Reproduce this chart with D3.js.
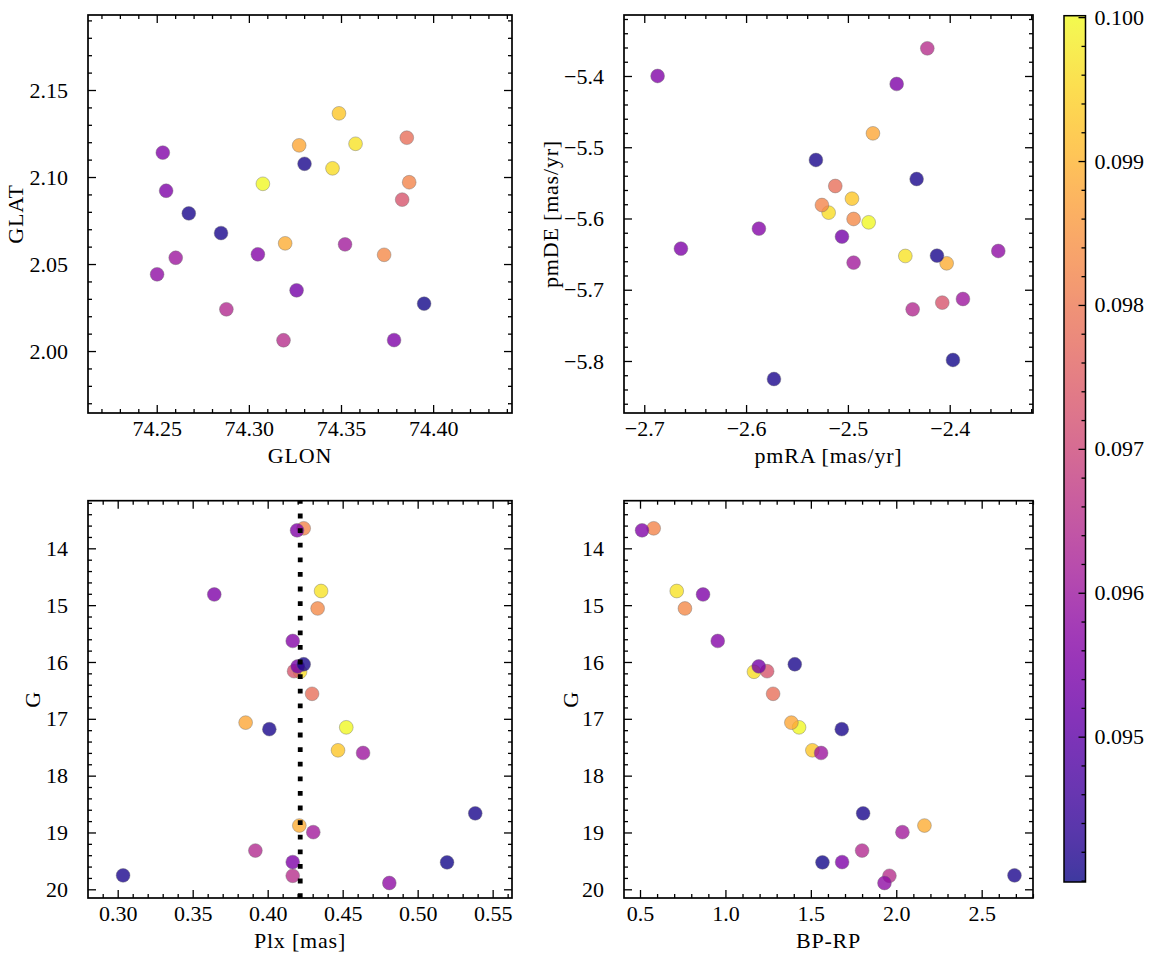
<!DOCTYPE html>
<html>
<head>
<meta charset="utf-8">
<script src="https://cdn.jsdelivr.net/npm/d3@7"></script>
<style>
  html, body { margin: 0; padding: 0; background: #fff; }
  svg { display: block; }
</style>
</head>
<body>
<svg id="chart" width="1155" height="965"></svg>
<script>
// ---------------- data (one entry per star) ----------------
const glon = [74.2533, 74.3870, 74.2551, 74.3579, 74.3734, 74.3049, 74.3302, 74.3259, 74.3832, 74.3454,
              74.3857, 74.3273, 74.2674, 74.3076, 74.3489, 74.2603, 74.2849, 74.3197, 74.3522, 74.2878,
              74.3788, 74.3951, 74.3188, 74.3420, 74.2502];
const glat = [2.1140, 2.0970, 2.0921, 2.1191, 2.0553, 2.0556, 2.1076, 2.0349, 2.0870, 2.1050,
              2.1226, 2.1182, 2.0791, 2.0961, 2.1366, 2.0536, 2.0678, 2.0619, 2.0613, 2.0240,
              2.0063, 2.0272, 2.0062, 2.2050, 2.0441];
const pmra = [-2.6869, -2.5255, -2.6640, -2.4436, -2.4944, -2.5874, -2.5314, -2.5058, -2.4073, -2.5189,
              -2.5124, -2.4754, -2.4325, -2.4796, -2.4960, -2.3870, -2.4125, -2.4030, -2.4944, -2.4364,
              -2.4521, -2.3968, -2.4220, -2.5726, -2.3523];
const pmde = [-5.4000, -5.5811, -5.6423, -5.6526, -5.6007, -5.6143, -5.5179, -5.6255, -5.7181, -5.5918,
              -5.5544, -5.4805, -5.5446, -5.6054, -5.5722, -5.7130, -5.6522, -5.6629, -5.6620, -5.7275,
              -5.4112, -5.7986, -5.3612, -5.8253, -5.6456];
const plx  = [0.4196, 0.4240, 0.3644, 0.4356, 0.4333, 0.4167, 0.4240, 0.4200, 0.4176, 0.4216,
              0.4296, 0.3853, 0.4011, 0.4524, 0.4469, 0.4636, 0.5384, 0.4211, 0.4304, 0.3918,
              0.4167, 0.5196, 0.4167, 0.3036, 0.4811];
const gmag = [13.683, 13.648, 14.812, 14.751, 15.058, 15.630, 16.040, 16.078, 16.162, 16.172,
              16.560, 17.067, 17.182, 17.150, 17.554, 17.601, 18.663, 18.878, 18.994, 19.318,
              19.521, 19.526, 19.762, 19.755, 19.889];
const bprp = [0.512, 0.580, 0.869, 0.715, 0.763, 0.955, 1.406, 1.195, 1.244, 1.167,
              1.279, 1.386, 1.681, 1.431, 1.509, 1.560, 1.806, 2.165, 2.036, 1.800,
              1.683, 1.568, 1.960, 2.692, 1.931];
const cval = [0.09555, 0.09820, 0.09550, 0.09970, 0.09830, 0.09560, 0.09410, 0.09535, 0.09730, 0.09960,
              0.09780, 0.09880, 0.09410, 0.09998, 0.09930, 0.09600, 0.09410, 0.09890, 0.09610, 0.09640,
              0.09550, 0.09405, 0.09650, 0.09412, 0.09580];
const plxRef = 0.4217;
const cRange = [0.09399, 0.10001];

// tick values and labels
const p1XTicks = [74.25, 74.30, 74.35, 74.40];
const p1YTicks = [2.00, 2.05, 2.10, 2.15];
const p2XTicks = [-2.7, -2.6, -2.5, -2.4];
const p2YTicks = [-5.8, -5.7, -5.6, -5.5, -5.4];
const p3XTicks = [0.30, 0.35, 0.40, 0.45, 0.50, 0.55];
const gTicks   = [14, 15, 16, 17, 18, 19, 20];
const p4XTicks = [0.5, 1.0, 1.5, 2.0, 2.5];
const cTicks   = [0.095, 0.096, 0.097, 0.098, 0.099, 0.100];
const axisTitles = ["GLON", "GLAT", "pmRA [mas/yr]", "pmDE [mas/yr]", "Plx [mas]", "G", "BP-RP", "G"];

// ---------------- drawing ----------------
const FONT = "Liberation Serif";
const svg = d3.select("#chart").style("font-family", FONT);
const FS = 22;
const ALPHA = 0.8;
const color = d3.scaleSequential(d3.interpolatePlasma).domain(cRange);
const minus = s => s.replace("-", "\u2212");
const order = d3.range(cval.length).sort((a, b) => cval[b] - cval[a]);

function minorTicks(dom, step) {
  const lo = Math.min(dom[0], dom[1]), hi = Math.max(dom[0], dom[1]);
  const out = [];
  for (let v = Math.ceil(lo / step - 1e-9) * step; v <= hi + 1e-12; v += step) out.push(+v.toFixed(6));
  return out;
}
const fontify = sel => sel.style("font-family", FONT).style("font-size", FS + "px").attr("fill", "#000");
const titleFont = sel => fontify(sel).style("letter-spacing", "0.8px");

function panel(o) {
  const g = svg.append("g");
  const x = d3.scaleLinear().domain(o.xdom).range([o.left, o.right]);
  const y = d3.scaleLinear().domain(o.ydom).range([o.bottom, o.top]);
  const clipId = "clip" + o.id;
  svg.append("clipPath").attr("id", clipId).append("rect")
    .attr("x", o.left).attr("y", o.top).attr("width", o.right - o.left).attr("height", o.bottom - o.top);

  // points
  g.append("g").attr("clip-path", `url(#${clipId})`)
    .selectAll("circle").data(order).join("circle")
    .attr("cx", i => x(o.xs[i])).attr("cy", i => y(o.ys[i])).attr("r", 6.9)
    .attr("fill", i => color(cval[i])).attr("fill-opacity", ALPHA)
    .attr("stroke", "#6e6e6e").attr("stroke-opacity", 0.7).attr("stroke-width", 0.6);

  if (o.vline !== undefined) {
    g.append("line").attr("x1", x(o.vline)).attr("x2", x(o.vline))
      .attr("y1", o.bottom).attr("y2", o.top)
      .attr("stroke", "#000").attr("stroke-width", 4.8).attr("stroke-dasharray", "4.8 9.8");
  }

  const tw = 1.3, maj = 8, mnr = 4;
  const style = sel => { sel.select(".domain").remove(); sel.selectAll("line").attr("stroke-width", tw); };
  const bottomAx = (vals, size, fmt) => d3.axisBottom(x).tickValues(vals).tickSize(-size).tickPadding(7).tickFormat(fmt || "");
  const topAx = (vals, size) => d3.axisTop(x).tickValues(vals).tickSize(-size).tickFormat("");
  const leftAx = (vals, size, fmt) => d3.axisLeft(y).tickValues(vals).tickSize(-size).tickPadding(20).tickFormat(fmt || "");
  const rightAx = (vals, size) => d3.axisRight(y).tickValues(vals).tickSize(-size).tickFormat("");

  const xm = minorTicks(o.xdom, o.xminor).filter(v => !o.xticks.some(t => Math.abs(t - v) < 1e-6));
  const ym = minorTicks(o.ydom, o.yminor).filter(v => !o.yticks.some(t => Math.abs(t - v) < 1e-6));

  g.append("g").attr("transform", `translate(0,${o.bottom})`).call(bottomAx(xm, mnr)).call(style);
  g.append("g").attr("transform", `translate(0,${o.top})`).call(topAx(xm, mnr)).call(style);
  g.append("g").attr("transform", `translate(${o.left},0)`).call(leftAx(ym, mnr)).call(style);
  g.append("g").attr("transform", `translate(${o.right},0)`).call(rightAx(ym, mnr)).call(style);

  const bx = g.append("g").attr("transform", `translate(0,${o.bottom})`).call(bottomAx(o.xticks, maj, o.xfmt)).call(style);
  g.append("g").attr("transform", `translate(0,${o.top})`).call(topAx(o.xticks, maj)).call(style);
  const ly = g.append("g").attr("transform", `translate(${o.left},0)`).call(leftAx(o.yticks, maj, o.yfmt)).call(style);
  g.append("g").attr("transform", `translate(${o.right},0)`).call(rightAx(o.yticks, maj)).call(style);
  [bx, ly].forEach(a => a.selectAll("text").call(fontify));

  g.append("rect").attr("x", o.left).attr("y", o.top)
    .attr("width", o.right - o.left).attr("height", o.bottom - o.top)
    .attr("fill", "none").attr("stroke", "#000").attr("stroke-width", 1.7);

  g.append("text").attr("x", (o.left + o.right) / 2).attr("y", o.bottom + 50)
    .attr("text-anchor", "middle").call(titleFont).text(o.xlabel);
  const cy = (o.top + o.bottom) / 2;
  g.append("text").attr("transform", `translate(${o.left - o.ylabOff},${cy}) rotate(-90)`)
    .attr("text-anchor", "middle").call(titleFont).text(o.ylabel);
}

const f2 = d => d3.format(".2f")(d);
const f1 = d => minus(d3.format(".1f")(d));
const f0 = d => d3.format("d")(d);

panel({ id: 1, left: 88, right: 512, top: 15, bottom: 413,
  xdom: [74.2127, 74.4428], ydom: [1.9644, 2.1931], xs: glon, ys: glat,
  xticks: p1XTicks, yticks: p1YTicks, xminor: 0.01, yminor: 0.01, xfmt: f2, yfmt: f2,
  xlabel: axisTitles[0], ylabel: axisTitles[1], ylabOff: 65 });

panel({ id: 2, left: 624, right: 1033, top: 15, bottom: 413,
  xdom: [-2.7199, -2.3182], ydom: [-5.873, -5.3144], xs: pmra, ys: pmde,
  xticks: p2XTicks, yticks: p2YTicks, xminor: 0.02, yminor: 0.02, xfmt: f1, yfmt: f1,
  xlabel: axisTitles[2], ylabel: axisTitles[3], ylabOff: 66 });

panel({ id: 3, left: 88, right: 512, top: 500.7, bottom: 898,
  xdom: [0.2802, 0.5629], ydom: [20.153, 13.162], xs: plx, ys: gmag,
  xticks: p3XTicks, yticks: gTicks, xminor: 0.01, yminor: 0.2, xfmt: f2, yfmt: f0,
  xlabel: axisTitles[4], ylabel: axisTitles[5], ylabOff: 48, vline: plxRef });

panel({ id: 4, left: 624, right: 1033, top: 500.7, bottom: 898,
  xdom: [0.4063, 2.8004], ydom: [20.153, 13.162], xs: bprp, ys: gmag,
  xticks: p4XTicks, yticks: gTicks, xminor: 0.1, yminor: 0.2, xfmt: f1, yfmt: f0,
  xlabel: axisTitles[6], ylabel: axisTitles[7], ylabOff: 46 });

// ---------------- colorbar ----------------
const cb = { left: 1064, right: 1085.5, top: 15.7, bottom: 882 };
const cy = d3.scaleLinear().domain(cRange).range([cb.bottom, cb.top]);
const grad = svg.append("defs").append("linearGradient").attr("id", "cbgrad")
  .attr("x1", 0).attr("y1", 1).attr("x2", 0).attr("y2", 0);
d3.range(0, 1.0001, 0.02).forEach(t => {
  grad.append("stop").attr("offset", t).attr("stop-color", d3.interpolatePlasma(t));
});
svg.append("rect").attr("x", cb.left).attr("y", cb.top)
  .attr("width", cb.right - cb.left).attr("height", cb.bottom - cb.top)
  .attr("fill", "url(#cbgrad)").attr("fill-opacity", ALPHA);
const cMinor = minorTicks(cRange, 0.0002).filter(v => !cTicks.some(t => Math.abs(t - v) < 1e-7));
const cg = svg.append("g").attr("transform", `translate(${cb.right},0)`);
cg.call(d3.axisRight(cy).tickValues(cMinor).tickSize(-4).tickFormat(""));
cg.select(".domain").remove();
cg.selectAll("line").attr("stroke-width", 1.3);
const cg2 = svg.append("g").attr("transform", `translate(${cb.right},0)`);
cg2.call(d3.axisRight(cy).tickValues(cTicks).tickSize(-7).tickPadding(9).tickFormat(d3.format(".3f")));
cg2.select(".domain").remove();
cg2.selectAll("line").attr("stroke-width", 1.3);
cg2.selectAll("text").call(fontify);
svg.append("rect").attr("x", cb.left).attr("y", cb.top)
  .attr("width", cb.right - cb.left).attr("height", cb.bottom - cb.top)
  .attr("fill", "none").attr("stroke", "#000").attr("stroke-width", 1.5);
</script>
</body>
</html>
